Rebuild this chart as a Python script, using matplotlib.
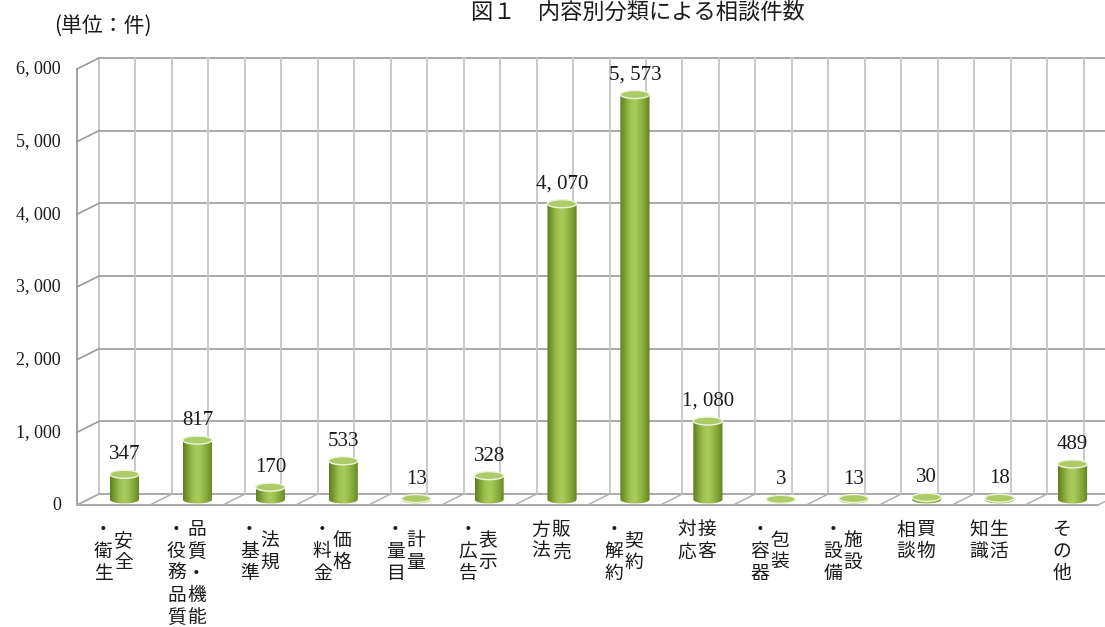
import numpy as np
import matplotlib
matplotlib.use("Agg")
import matplotlib.pyplot as plt
from matplotlib.patches import Ellipse, PathPatch
from matplotlib.path import Path
from matplotlib.colors import LinearSegmentedColormap

# 相談件数（内容別）
categories = ["安全・衛生", "品質・機能・役務品質", "法規・基準", "価格・料金",
              "計量・量目", "表示・広告", "販売方法", "契約・解約", "接客対応",
              "包装・容器", "施設・設備", "買物相談", "生活知識", "その他"]
counts = [347, 817, 170, 533, 13, 328, 4070, 5573, 1080, 3, 13, 30, 18, 489]
# 縦書きラベル（右の列から左の列へ）
label_columns = [["安全", "・衛生"], ["品質・機能", "・役務品質"], ["法規", "・基準"],
                 ["価格", "・料金"], ["計量", "・量目"], ["表示", "・広告"],
                 ["販売", "方法"], ["契約", "・解約"], ["接客", "対応"],
                 ["包装", "・容器"], ["施設", "・設備"], ["買物", "相談"],
                 ["生活", "知識"], ["その他"]]
y_ticks = [0, 1000, 2000, 3000, 4000, 5000, 6000]

title = "図１　内容別分類による相談件数"
unit = "(単位：件)"

JP = "Noto Sans CJK JP"
SERIF = "Liberation Serif"
DPI = 100

fig = plt.figure(figsize=(11.05, 6.27), dpi=DPI)
W, H = 1105, 627
ax = fig.add_axes([77 / W, 122 / H, 1021 / W, 436 / H])
ax.set_autoscale_on(False)
n = len(counts)
x0, x1 = -0.5, n - 0.5
ax.set_xlim(x0, x1)
ax.set_ylim(0, 6000)
ax.axis("off")

# depth of the 3-D box, expressed in data units
p0 = ax.transData.transform((0, 0))
p1 = ax.transData.transform((1, 1000))
px_x = p1[0] - p0[0]
px_y = (p1[1] - p0[1]) / 1000.0
ddx = 22 / px_x
ddy = 11 / px_y

grid_h = "#a3a3a3"
grid_v = "#c6c6c6"

# back wall
for v in y_ticks:
    ax.plot([x0 + ddx, x1 + ddx], [v + ddy, v + ddy], color=grid_h, lw=1.3,
            clip_on=False, zorder=1)
for xv in np.arange(x0, x1 + 0.01, 0.5):
    ax.plot([xv + ddx, xv + ddx], [ddy, 6000 + ddy], color=grid_v, lw=1.3,
            clip_on=False, zorder=1)

# left side wall
ax.plot([x0, x0], [0, 6000], color="#9a9a9a", lw=1.3, clip_on=False, zorder=2)
for v in y_ticks:
    ax.plot([x0, x0 + ddx], [v, v + ddy], color="#9a9a9a", lw=1.2,
            clip_on=False, zorder=2)

# floor
ax.plot([x0, x1], [0, 0], color="#a3a3a3", lw=1.3, clip_on=False, zorder=2)
for xv in np.arange(x0, x1 + 0.01, 1.0):
    ax.plot([xv, xv + ddx], [0, ddy], color="#b0b0b0", lw=1.1,
            clip_on=False, zorder=2)

# cylinders
cyl_cmap = LinearSegmentedColormap.from_list(
    "cyl", ["#5f7e22", "#7fa234", "#9ec252", "#aacc5e", "#97bb48",
            "#80a236", "#648420"])
grad = np.linspace(0, 1, 64).reshape(1, -1)
bw = 0.40
eh = 8 / px_y
t = np.linspace(np.pi, 2 * np.pi, 40)

for i, v in enumerate(counts):
    cx = i + ddx / 2
    cy = ddy / 2
    top = cy + v
    arc = np.column_stack([cx + bw / 2 * np.cos(t), cy + eh / 2 * np.sin(t)])
    verts = np.vstack([[cx - bw / 2, top], arc, [cx + bw / 2, top], [cx - bw / 2, top]])
    codes = [Path.MOVETO] + [Path.LINETO] * (len(verts) - 2) + [Path.CLOSEPOLY]
    clip = PathPatch(Path(verts, codes), transform=ax.transData,
                     facecolor="none", edgecolor="none")
    ax.add_patch(clip)
    im = ax.imshow(grad, extent=(cx - bw / 2, cx + bw / 2, cy - eh, top),
                   aspect="auto", cmap=cyl_cmap, zorder=3, interpolation="bilinear")
    im.set_clip_path(clip)
    ax.add_patch(Ellipse((cx, top), bw, eh, facecolor="#adcb66",
                         edgecolor="#eef4dc", lw=1.0, zorder=4, clip_on=False))
    ax.annotate(f"{v:,}".replace(",", ", "), (cx, top), xytext=(0, 10),
                textcoords="offset pixels", ha="center", va="bottom",
                fontsize=15, family=SERIF, color="#1a1a1a", annotation_clip=False)

# y-axis labels
for v in y_ticks:
    ax.annotate(f"{v:,}".replace(",", ", "), (x0, v), xytext=(-16, 0),
                textcoords="offset pixels", ha="right", va="center",
                fontsize=13, family=SERIF, color="#1a1a1a", annotation_clip=False)

# vertical category labels
row_h = 21.8
col_sp = 20
for i, cols in enumerate(label_columns):
    nmax = max(len(c) for c in cols)
    ncol = len(cols)
    for c, col in enumerate(cols):
        dx = ((ncol - 1) / 2 - c) * col_sp
        off = (nmax - len(col)) / 2
        for r, ch in enumerate(col):
            dy = -(14 + (off + r + 0.5) * row_h)
            ax.annotate(ch, (i, 0), xytext=(dx, dy), textcoords="offset pixels",
                        ha="center", va="center", fontsize=13.5,
                        family=[JP, "DejaVu Sans"], color="#1a1a1a",
                        annotation_clip=False)

fig.text(54 / W, 1 - 26 / H, unit, ha="left", va="center", fontsize=15,
         family=[JP, "DejaVu Sans"], color="#1a1a1a")
fig.text(638 / W, 1 - 1 / H, title, ha="center", va="top", fontsize=16,
         family=[JP, "DejaVu Sans"], color="#1a1a1a")

fig.savefig("out.png", dpi=DPI, facecolor="white")
